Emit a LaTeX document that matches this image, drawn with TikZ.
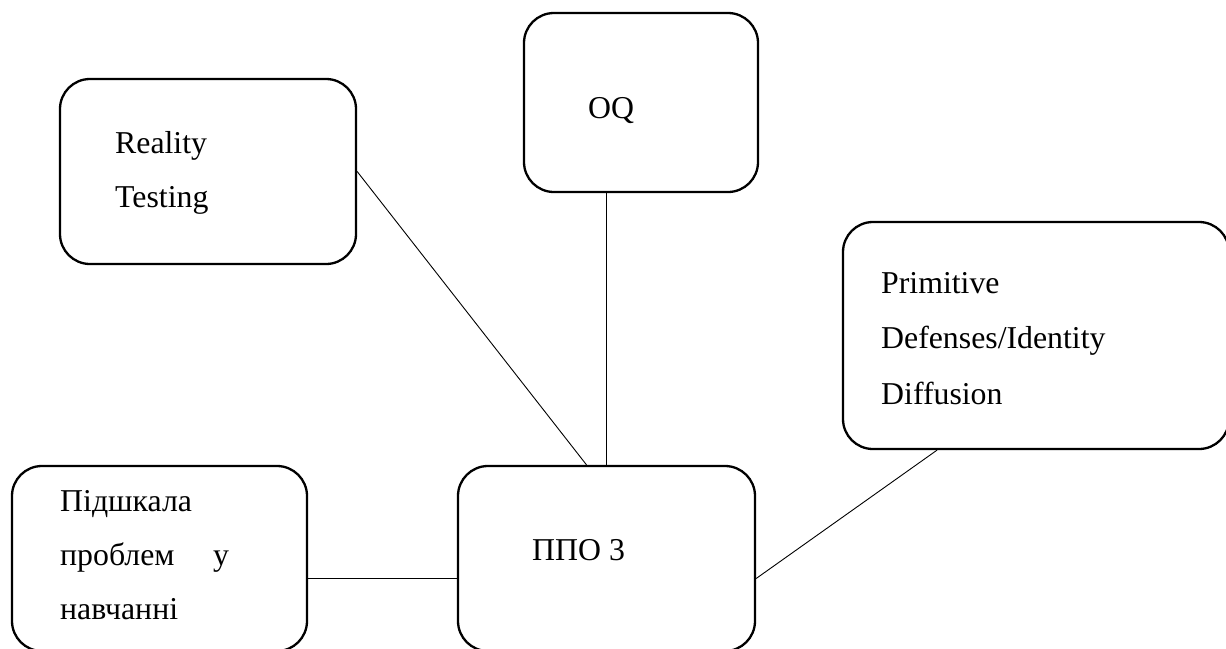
\documentclass[tikz,border=0pt]{standalone}
\usepackage{fontspec}
\setmainfont{Liberation Serif}
\usetikzlibrary{calc}
\begin{document}
\begin{tikzpicture}[x=1pt,y=-1pt,
  box/.style={draw, line width=2.3pt, rounded corners=30pt, inner sep=0pt},
  txt/.style={anchor=base west, inner sep=0pt, font=\fontsize{31.8}{54}\selectfont},
  link/.style={draw, line width=0.9pt}]
\useasboundingbox (0,0) rectangle (1226,648);
% boxes
\node[box, minimum width=296pt, minimum height=185pt] (rt) at (208,171.5) {};
\node[box, minimum width=234pt, minimum height=179pt] (oq) at (641,102.5) {};
\node[box, minimum width=386pt, minimum height=227pt] (pd) at (1036,335.5) {};
\node[box, minimum width=295pt, minimum height=185pt] (ps) at (159.5,558.5) {};
\node[box, minimum width=297pt, minimum height=185pt] (ppo) at (606.5,558.5) {};
% texts
\node[txt] (rt1) at (115,153) {Reality};
\node[txt] (rt2) at (115,207) {Testing};
\node[txt] (oq1) at (588,118) {OQ};
\node[txt] (pd1) at (881,293) {Primitive};
\node[txt] (pd2) at (881,348) {Defenses/Identity};
\node[txt] (pd3) at (881,404) {Diffusion};
\node[txt] (ps1) at (60,511) {Підшкала};
\node[txt] (ps2) at (60,565) {проблем};
\node[txt] (ps2b) at (213,565) {у};
\node[txt] (ps3) at (60,619) {навчанні};
\node[txt] (ppo1) at (532,560) {ППО 3};
% connectors
\draw[link] (rt.east) -- ($(ppo.north)+(-20,0)$);
\draw[link] (ppo.north |- oq.south) -- (ppo.north);
\coordinate (pdb) at ($(pd.south)+(-99,0)$);
\draw[link] (pdb) -- ($(ppo.east)+(0,20)$);
\draw[link] ($(ps.east)+(0,20)$) -- ($(ppo.west)+(0,20)$);
\end{tikzpicture}
\end{document}
